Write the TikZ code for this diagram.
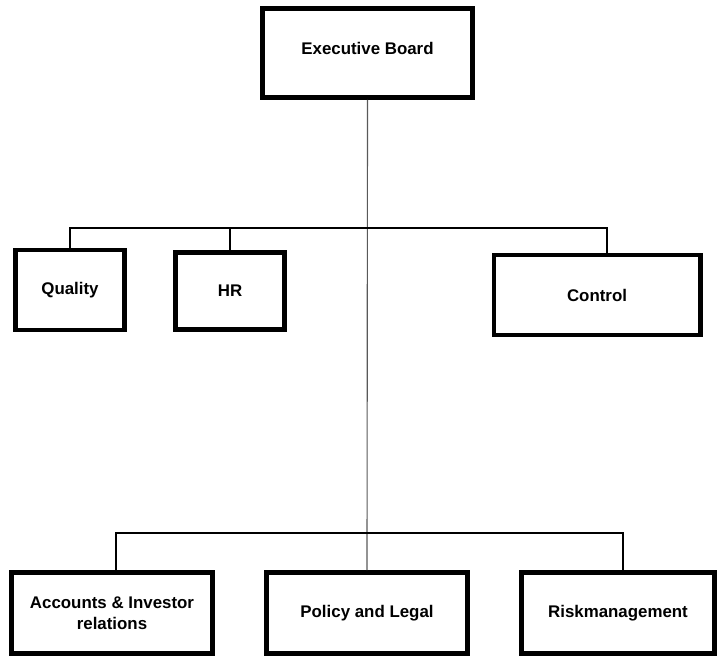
\documentclass[tikz,border=0pt]{standalone}
\usepackage{fontspec}
\setmainfont{Liberation Sans}
\usepackage{tikz}

\begin{document}
\begin{tikzpicture}[x=0.025cm,y=-0.025cm,
  box/.style={draw,line width=3.5pt,align=center,
    font=\bfseries\fontsize{12}{15}\selectfont},
  bus/.style={line width=1.5pt}]
  \useasboundingbox (0,0) rectangle (720,658);

  % Boxes
  \node[box,minimum width=5.25cm,minimum height=2.225cm] (board) at (367.5,53) {\raisebox{6pt}{Executive Board}};
  \node[box,minimum width=2.725cm,minimum height=2cm] (quality) at (70,290) {Quality};
  \node[box,minimum width=2.725cm,minimum height=1.925cm] (hr) at (230,291) {HR};
  \node[box,minimum width=5.15cm,minimum height=2cm] (control) at (597,295) {Control};
  \node[box,minimum width=5.025cm,minimum height=2.025cm] (accounts) at (112,613) {Accounts \& Investor\\relations};
  \node[box,minimum width=5.025cm,minimum height=2.025cm] (policy) at (367,613) {Policy and Legal};
  \node[box,minimum width=4.825cm,minimum height=2.025cm] (risk) at (618,613) {Riskmanagement};

  % Bus lines
  \coordinate (topbus) at (0,228);
  \coordinate (lowbus) at (0,533);

  % Main line
  \draw[gray!70!black,line width=0.8pt] (board.south) -- (policy.north);

  % Upper branch
  \draw[bus] (quality.north) -- (quality.north |- topbus) -| ([xshift=0.25cm]control.north);
  \draw[bus] (hr.north) -- (hr.north |- topbus);

  % Lower branch
  \draw[bus] ([xshift=0.1cm]accounts.north) -- ([xshift=0.1cm]accounts.north |- lowbus) -| ([xshift=0.125cm]risk.north);

\end{tikzpicture}
\end{document}
